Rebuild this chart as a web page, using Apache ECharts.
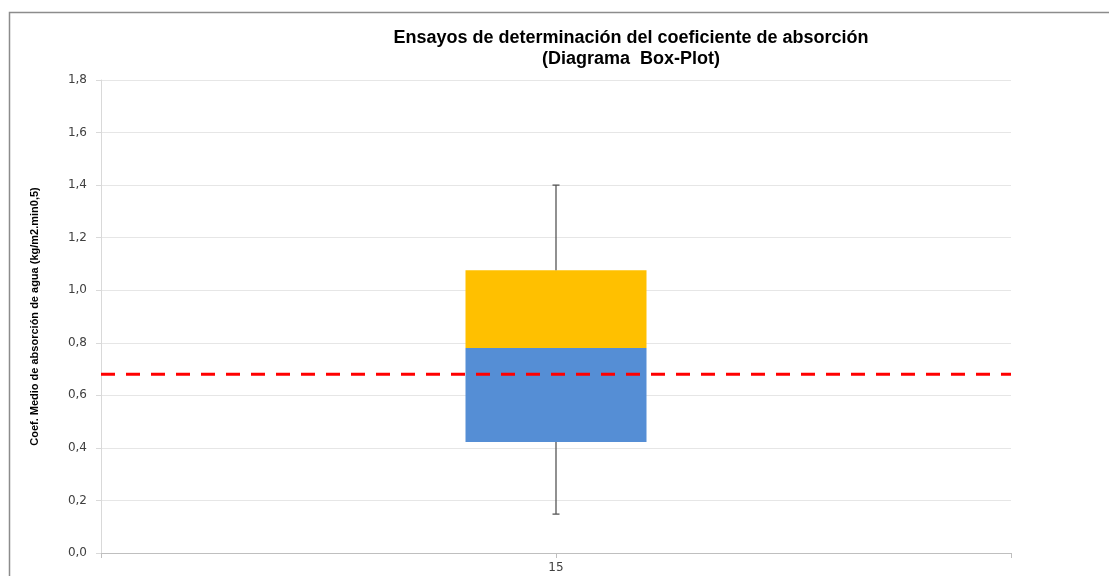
<!DOCTYPE html>
<html>
<head>
<meta charset="utf-8">
<script src="https://cdn.jsdelivr.net/npm/echarts@6/dist/echarts.min.js"></script>
<style>
html,body{margin:0;padding:0;background:#fff;}
#c{width:1109px;height:576px;}
</style>
</head>
<body>
<div id="c"></div>
<script>
// Data
var categories = ['', '15', ''];
var whiskerMin = [null, 0.148, null];
var q1 = [null, 0.422, null];
var median = [null, 0.780, null];
var q3 = [null, 1.076, null];
var whiskerMax = [null, 1.400, null];
var refLine = [0.68, 0.68, 0.68];
var yTicks = [0, 0.2, 0.4, 0.6, 0.8, 1.0, 1.2, 1.4, 1.6, 1.8];

var base = q1;
var lowerBox = median.map(function(m, i){ return m == null ? null : +(m - q1[i]).toFixed(3); });
var upperBox = q3.map(function(v, i){ return v == null ? null : +(v - median[i]).toFixed(3); });
var whiskerData = [];
for (var i = 0; i < categories.length; i++) {
  if (whiskerMin[i] != null) whiskerData.push([i, whiskerMin[i], q1[i], q3[i], whiskerMax[i]]);
}

var chart = echarts.init(document.getElementById('c'), null, {renderer: 'canvas'});
chart.setOption({
  backgroundColor: '#fff',
  animation: false,
  title: {
    text: 'Ensayos de determinación del coeficiente de absorción\n(Diagrama  Box-Plot)',
    left: 626, top: 23, textAlign: 'center',
    textStyle: {fontFamily: 'Liberation Sans, Arial', fontWeight: 'bold', fontSize: 18, color: '#000', lineHeight: 21}
  },
  graphic: [{
    type: 'rect', shape: {x: 9.5, y: 12.5, width: 1200, height: 700},
    style: {fill: 'none', stroke: '#8c8c8c', lineWidth: 1.5}, silent: true, z: 100
  }],
  grid: {left: 101, right: 98, top: 80, bottom: 23},
  xAxis: {
    type: 'category', data: categories, boundaryGap: false,
    axisLine: {lineStyle: {color: '#bfbfbf'}},
    axisTick: {show: true, length: 5, lineStyle: {color: '#bfbfbf'}},
    axisLabel: {color: '#404040', fontSize: 12, margin: 9, fontFamily: 'DejaVu Sans, Verdana'},
    splitLine: {show: false}
  },
  yAxis: {
    type: 'value', min: 0, max: 1.8, interval: 0.2,
    name: 'Coef. Medio de absorción de agua (kg/m2.min0,5)',
    nameLocation: 'middle', nameGap: 61, nameRotate: 90,
    nameTextStyle: {fontFamily: 'Liberation Sans, Arial', fontWeight: 'bold', fontSize: 11, color: '#000'},
    axisLine: {show: true, lineStyle: {color: '#d9d9d9'}},
    axisTick: {show: true, length: 5, lineStyle: {color: '#d9d9d9'}},
    axisLabel: {color: '#404040', fontSize: 12, margin: 14, fontFamily: 'DejaVu Sans, Verdana',
      formatter: function(v){ return v.toFixed(1).replace('.', ','); }},
    splitLine: {lineStyle: {color: '#e6e6e6', width: 1}}
  },
  series: [
    {type: 'bar', stack: 'b', data: base, barWidth: 181, itemStyle: {color: 'transparent'}, silent: true},
    {type: 'bar', stack: 'b', data: lowerBox, barWidth: 181, itemStyle: {color: '#558ed5'}},
    {type: 'bar', stack: 'b', data: upperBox, barWidth: 181, itemStyle: {color: '#ffc000'}},
    {
      type: 'custom', data: whiskerData, z: 5,
      renderItem: function(params, api) {
        var x = api.value(0);
        var pMin = api.coord([x, api.value(1)]);
        var pQ1 = api.coord([x, api.value(2)]);
        var pQ3 = api.coord([x, api.value(3)]);
        var pMax = api.coord([x, api.value(4)]);
        var st = {stroke: '#555', lineWidth: 1.3};
        var c = 3.5;
        return {type: 'group', children: [
          {type: 'line', shape: {x1: pMin[0], y1: pMin[1], x2: pQ1[0], y2: pQ1[1]}, style: st},
          {type: 'line', shape: {x1: pMax[0], y1: pMax[1], x2: pQ3[0], y2: pQ3[1]}, style: st},
          {type: 'line', shape: {x1: pMin[0]-c, y1: pMin[1], x2: pMin[0]+c, y2: pMin[1]}, style: st},
          {type: 'line', shape: {x1: pMax[0]-c, y1: pMax[1], x2: pMax[0]+c, y2: pMax[1]}, style: st}
        ]};
      }
    },
    {type: 'line', data: refLine, symbol: 'none', z: 10,
      lineStyle: {color: '#ff0000', width: 3, type: [14, 11]}}
  ]
});
</script>
</body>
</html>
